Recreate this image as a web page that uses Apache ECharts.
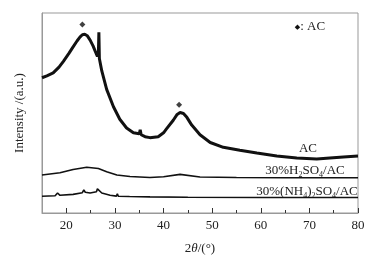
<!DOCTYPE html>
<html>
<head>
<meta charset="utf-8">
<script src="https://cdn.jsdelivr.net/npm/echarts@6/dist/echarts.min.js"></script>
<style>
    html, body { margin: 0; padding: 0; background: #fff; }
    #chart { width: 383px; height: 260px; }
</style>
</head>
<body>
<div id="chart"></div>
<script>
// 2θ positions and intensities (a.u.)
const thetaAC = [15, 16, 17.3, 18.5, 19.4, 20.5, 21.4, 22.2, 22.8, 23.3, 23.8, 24.3, 24.9, 25.5, 25.9, 26.4, 26.6, 26.7, 26.8, 27.3, 28.3, 29.7, 31, 32.4, 33.8, 35, 35.2, 35.4, 36.2, 37.2, 38.9, 40, 40.6, 42, 42.8, 43.4, 44.1, 44.8, 45.8, 47.5, 49.6, 52.3, 55.7, 59.2, 63.3, 67.4, 71.5, 74.2, 77, 80]
const valueAC = [140, 142, 145, 151, 157, 165, 172, 178, 182, 184.5, 185, 183.5, 179, 173, 168, 162, 165, 187, 160, 147, 128, 110, 97, 88, 83, 82, 86, 81, 79, 78, 79, 83, 87, 96, 102, 104, 103, 99, 91, 81, 73, 68, 65, 62, 59, 57, 56, 57, 58, 59]

const thetaH2SO4 = [15, 18.7, 21.4, 24.2, 26.6, 28.3, 30.4, 33.1, 37.2, 40, 43.4, 47.5, 55, 65, 80]
const valueH2SO4 = [39.3, 41.7, 45, 47.3, 46, 42.7, 39.3, 37.7, 36.7, 37.5, 40, 37.3, 36.7, 36.5, 36.5]

const thetaNH4 = [15, 17.7, 18.2, 18.7, 21.4, 23.3, 23.6, 23.9, 24.9, 26.2, 26.4, 26.7, 27.3, 29, 30.3, 30.5, 30.7, 33, 37.2, 45, 60, 80]
const valueNH4 = [17.3, 17.8, 20.7, 18.3, 19.3, 21, 24, 21.5, 20.7, 22, 25, 23, 20.7, 18.3, 17.5, 20, 17.3, 17, 16.7, 16.3, 16, 16]

// ◆ peak marks
const thetaPeak = [23.3, 43.2]
const valuePeak = [195, 112]

const majorTicks = [20, 30, 40, 50, 60, 70, 80]
const minorTicks = [25, 35, 45, 55, 65, 75]

const zip = (a, b) => a.map((v, i) => [v, b[i]])
const serif = "'Liberation Serif', 'Times New Roman', serif"

let myCharts = echarts.init(document.getElementById('chart'))
let option = {
    animation: false,
    textStyle: { fontFamily: serif },
    grid: {
        left: 42,
        right: 25,
        top: 13,
        bottom: 40,
        show: true,
        borderColor: '#999',
        borderWidth: 1
    },
    xAxis: [
        {
            type: 'value',
            min: 15,
            max: 80,
            name: '2{i|θ}/(°)',
            nameLocation: 'middle',
            nameGap: 29,
            nameTextStyle: {
                fontFamily: serif,
                fontSize: 13,
                color: '#222',
                rich: { i: { fontStyle: 'italic', fontFamily: serif, fontSize: 13, color: '#222' } }
            },
            splitLine: { show: false },
            axisLine: { lineStyle: { color: '#999' } },
            axisTick: { inside: true, length: 5, customValues: majorTicks, lineStyle: { color: '#333' } },
            axisLabel: { customValues: majorTicks, margin: 6, fontFamily: serif, fontSize: 13, color: '#222' }
        },
        {
            type: 'value',
            min: 15,
            max: 80,
            position: 'bottom',
            splitLine: { show: false },
            axisLine: { show: false },
            axisTick: { inside: true, length: 3, customValues: minorTicks, lineStyle: { color: '#333' } },
            axisLabel: { show: false }
        }
    ],
    yAxis: {
        type: 'value',
        min: 0,
        max: 207,
        name: 'Intensity /(a.u.)',
        nameLocation: 'middle',
        nameGap: 16,
        nameTextStyle: { fontFamily: serif, fontSize: 13, color: '#222' },
        splitLine: { show: false },
        axisLine: { show: true, lineStyle: { color: '#999' } },
        axisTick: { show: false },
        axisLabel: { show: false }
    },
    series: [
        {
            type: 'line',
            data: zip(thetaAC, valueAC),
            symbol: 'none',
            lineStyle: { color: '#111', width: 3 }
        },
        {
            type: 'line',
            data: zip(thetaH2SO4, valueH2SO4),
            symbol: 'none',
            lineStyle: { color: '#111', width: 1.6 }
        },
        {
            type: 'line',
            data: zip(thetaNH4, valueNH4),
            symbol: 'none',
            lineStyle: { color: '#111', width: 1.6 }
        },
        {
            type: 'scatter',
            data: zip(thetaPeak, valuePeak),
            symbol: 'diamond',
            symbolSize: 6,
            itemStyle: { color: '#111' }
        }
    ],
    graphic: [
        {
            type: 'text',
            x: 310,
            y: 27,
            style: {
                text: '{d|◆}{n|: AC}',
                align: 'center',
                verticalAlign: 'middle',
                rich: {
                    d: { fontSize: 7, fill: '#111', fontFamily: 'DejaVu Sans' },
                    n: { fontSize: 13, fill: '#222', fontFamily: serif }
                }
            }
        },
        {
            type: 'text',
            x: 308,
            y: 149,
            style: { text: 'AC', align: 'center', verticalAlign: 'middle', fontSize: 13, fontFamily: serif, fill: '#222' }
        },
        {
            type: 'text',
            x: 305,
            y: 171,
            style: {
                text: '{n|30%H}{s|2}{n|SO}{s|4}{n|/AC}',
                align: 'center',
                verticalAlign: 'middle',
                rich: {
                    n: { fontSize: 13, lineHeight: 15, fontFamily: serif, fill: '#222' },
                    s: { fontSize: 8, lineHeight: 8, verticalAlign: 'bottom', fontFamily: serif, fill: '#222' }
                }
            }
        },
        {
            type: 'text',
            x: 307,
            y: 192,
            style: {
                text: '{n|30%(NH}{s|4}{n|)}{s|2}{n|SO}{s|4}{n|/AC}',
                align: 'center',
                verticalAlign: 'middle',
                rich: {
                    n: { fontSize: 13, lineHeight: 15, fontFamily: serif, fill: '#222' },
                    s: { fontSize: 8, lineHeight: 8, verticalAlign: 'bottom', fontFamily: serif, fill: '#222' }
                }
            }
        }
    ]
}
myCharts.setOption(option)
</script>
</body>
</html>
